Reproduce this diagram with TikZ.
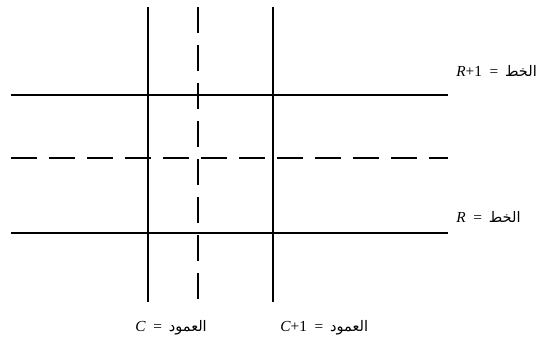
\documentclass[tikz,border=0pt]{standalone}
\usepackage{fontspec}
\setmainfont{Liberation Serif}
\newfontfamily\arabicfont[Script=Arabic,Scale=0.95]{DejaVu Sans}
\TeXXeTstate=1
\usetikzlibrary{positioning}
\tikzset{
  gridline/.style={line width=0.8pt},
  dashline/.style={line width=1pt, dash pattern=on 19.5pt off 9pt},
  axislabel/.style={inner sep=0pt, font=\fontsize{11.5}{13}\selectfont},
}
\newcommand{\rowline}[2]{\draw[#2] (11,#1) -- (448,#1);}
\newcommand{\colline}[2]{\draw[#2] (#1,7) -- (#1,302);}
\newcommand{\artext}[1]{{\arabicfont\beginR #1\endR}}
\newcommand{\eqsign}{\hspace{0.5em}=\hspace{0.45em}}

\begin{document}
\begin{tikzpicture}[x=0.75pt,y=-0.75pt]
  \useasboundingbox (0,0) rectangle (551,351);
  \rowline{95}{gridline}
  \rowline{158}{dashline}
  \rowline{233}{gridline}
  \colline{148}{gridline}
  \colline{198}{dashline}
  \colline{273}{gridline}
  \node[axislabel, anchor=base west] (rowtop) at (456,76) {\textit{R}+1\eqsign\artext{الخط}};
  \node[axislabel, anchor=base west] (rowbot) at (456,222) {\textit{R}\eqsign\artext{الخط}};
  \node[axislabel, anchor=base west] (colleft) at (135,331) {\textit{C}\eqsign\artext{العمود}};
  \node[axislabel, anchor=base west] (colright) at (280,331) {\textit{C}+1\eqsign\artext{العمود}};
\end{tikzpicture}
\end{document}
